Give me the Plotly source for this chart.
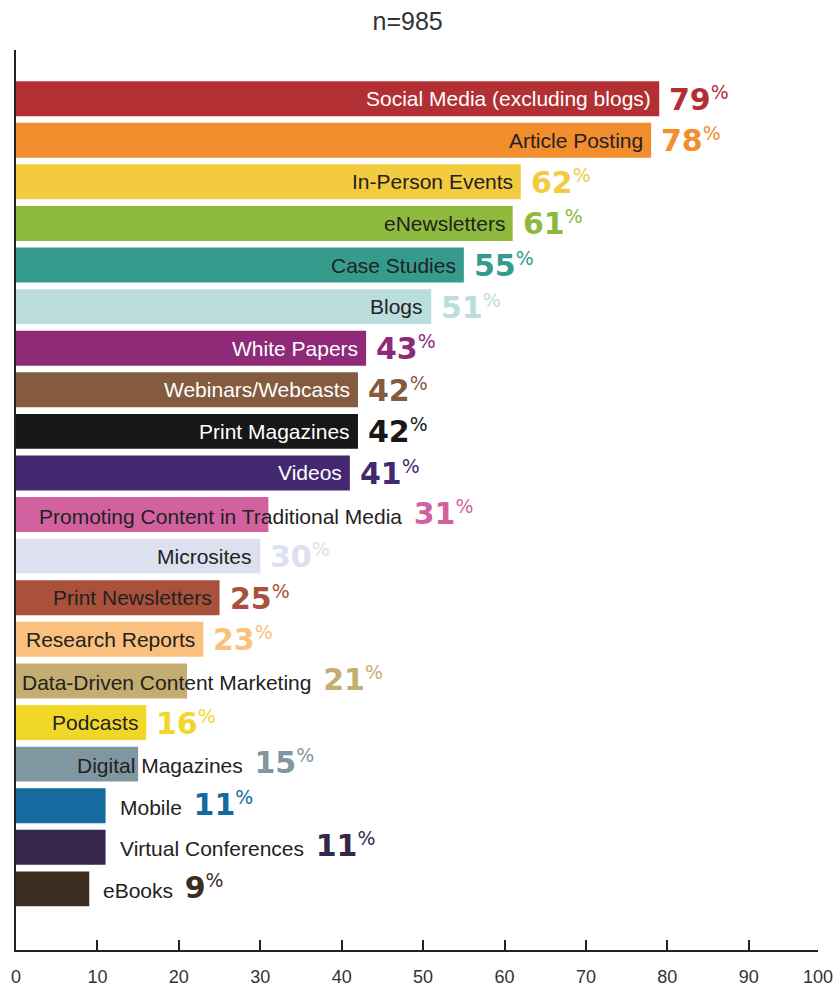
import plotly.graph_objects as go

# ---------------- data ----------------
categories = [
    "Social Media (excluding blogs)", "Article Posting", "In-Person Events",
    "eNewsletters", "Case Studies", "Blogs", "White Papers",
    "Webinars/Webcasts", "Print Magazines", "Videos",
    "Promoting Content in Traditional Media", "Microsites",
    "Print Newsletters", "Research Reports", "Data-Driven Content Marketing",
    "Podcasts", "Digital Magazines", "Mobile", "Virtual Conferences", "eBooks",
]
values = [79, 78, 62, 61, 55, 51, 43, 42, 42, 41, 31, 30, 25, 23, 21, 16, 15, 11, 11, 9]
bar_colors = [
    "#B23033", "#F28E2E", "#F3CB3F", "#8DBA3C", "#359B8D", "#BCDDDD",
    "#8E2A78", "#845B3F", "#171717", "#43286F", "#D2629F", "#DDE0EE",
    "#A9513A", "#FCC07E", "#C3AD70", "#F1D828", "#8096A0", "#156BA0",
    "#35264B", "#3D2C20",
]
x_ticks = list(range(0, 101, 10))
title_text = "n=985"

# ---------------- label styling ----------------
white_labels = {"Social Media (excluding blogs)", "White Papers", "Webinars/Webcasts",
                "Print Magazines", "Videos"}
overflow_start = {"Promoting Content in Traditional Media": 2.6,
                  "Data-Driven Content Marketing": 0.5,
                  "Digital Magazines": 7.2}
outside_labels = {"Mobile", "Virtual Conferences", "eBooks"}

LABEL_FONT = "Liberation Sans, Arial, sans-serif"
PCT_FONT = "DejaVu Sans, sans-serif"
DARK = "#222222"
PCT_SIZE = 30      # digits
PCT_BASE = 27      # base size -> the superscript "%" is 70% of it
LABEL_SIZE = 21
AXIS_END = 98.5    # the reference's last tick ("100") sits slightly short of scale

fig = go.Figure()
fig.add_trace(go.Bar(
    y=categories, x=values, orientation="h",
    marker=dict(color=bar_colors, line=dict(width=0)),
    hoverinfo="skip",
))


def pct_html(v):
    return (f"<span style='font-family:DejaVu Sans;font-size:{PCT_SIZE}px'>"
            f"<b>{v}</b></span><sup>%</sup>")


annotations = []
for cat, v, c in zip(categories, values, bar_colors):
    if cat in overflow_start or cat in outside_labels:
        start = overflow_start.get(cat, v)
        shift = 0 if cat in overflow_start else 12
        annotations.append(dict(
            x=start, y=cat, xref="x", yref="y", xanchor="left", yanchor="middle",
            xshift=shift, yshift=2, showarrow=False,
            text=(f"<span style='font-family:Liberation Sans;font-size:{LABEL_SIZE}px;"
                  f"color:{DARK}'>{cat}&nbsp;&nbsp;</span>{pct_html(v)}"),
            font=dict(family=PCT_FONT, size=PCT_BASE, color=c),
        ))
    else:
        annotations.append(dict(
            x=v, y=cat, xref="x", yref="y", xanchor="right", yanchor="middle",
            xshift=-6, showarrow=False, text=cat,
            font=dict(family=LABEL_FONT, size=LABEL_SIZE,
                      color="white" if cat in white_labels else DARK),
        ))
        annotations.append(dict(
            x=v, y=cat, xref="x", yref="y", xanchor="left", yanchor="middle",
            xshift=8, showarrow=False, text=pct_html(v),
            font=dict(family=PCT_FONT, size=PCT_BASE, color=c),
        ))

tick_positions = [min(t, AXIS_END) for t in x_ticks]

fig.update_layout(
    width=837, height=987,
    margin=dict(l=16, r=19, t=50, b=37, autoexpand=False),
    paper_bgcolor="white", plot_bgcolor="white",
    showlegend=False,
    bargap=0.16,
    title=dict(text=title_text, x=0.487, xanchor="center", y=1 - 21 / 987,
               yanchor="middle",
               font=dict(family=LABEL_FONT, size=25, color="#333333")),
    annotations=annotations,
    xaxis=dict(
        range=[0, AXIS_END], tickvals=tick_positions,
        ticktext=[str(t) for t in x_ticks], ticks="inside", ticklen=10,
        tickcolor=DARK, tickwidth=1.5, showline=True, linecolor=DARK, linewidth=2,
        showgrid=False, zeroline=False, ticklabelstandoff=9, automargin=False,
        tickfont=dict(family=LABEL_FONT, size=18, color="#333333"),
    ),
    yaxis=dict(
        type="category", categoryorder="array", categoryarray=categories,
        range=[20.47, -1.17], showline=True, linecolor=DARK, linewidth=2,
        showticklabels=False, ticks="", showgrid=False, zeroline=False,
        automargin=False,
    ),
)

fig.write_html("out.html",
               config={"displayModeBar": False},
               post_script="document.body.style.margin='0';"
                           "document.body.style.overflow='hidden';")
